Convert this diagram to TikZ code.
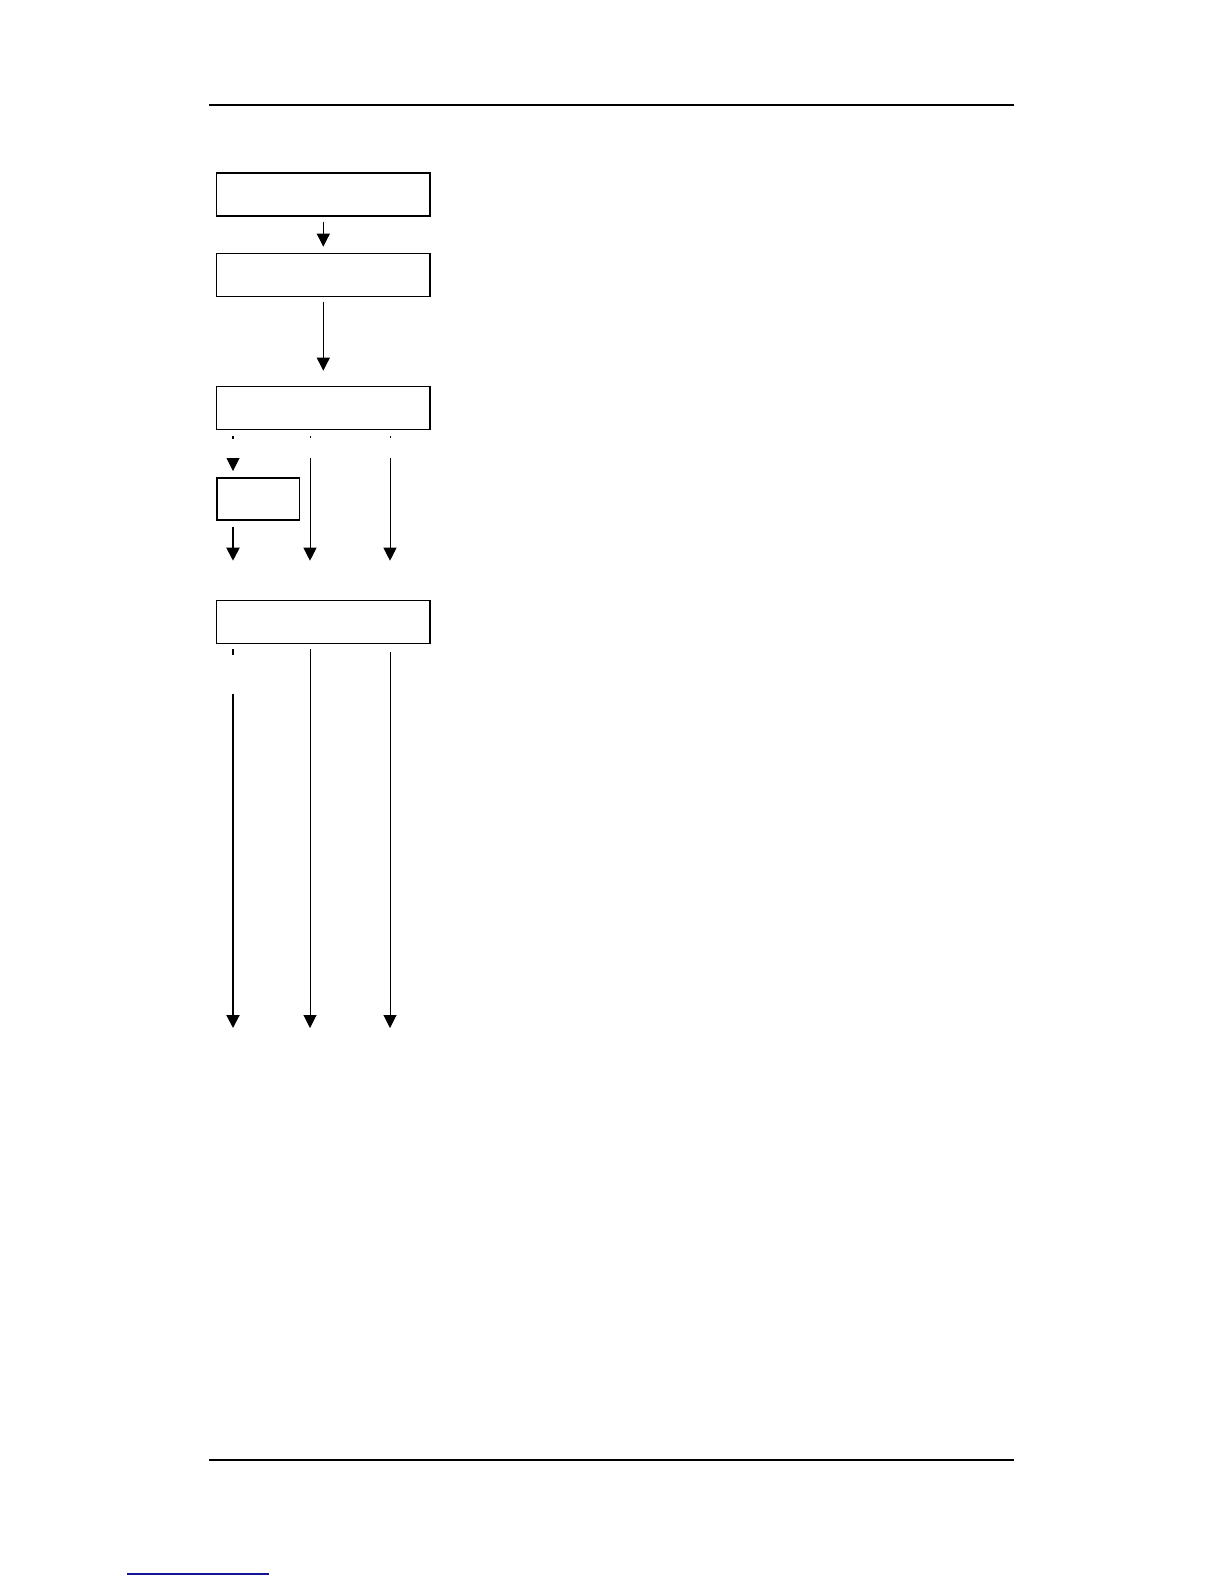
\documentclass[tikz,border=0pt]{standalone}
\usetikzlibrary{arrows.meta,calc,positioning}
\definecolor{linkblue}{RGB}{20,20,150}
\tikzset{
  stepbox/.style={draw,line width=0.8pt,minimum width=106.7pt,minimum height=21.5pt,inner sep=0pt},
  sidebox/.style={stepbox,minimum width=41.3pt,minimum height=21.2pt},
  flow/.style={-{Triangle[width=6.5pt,length=6.5pt]},line width=0.5pt},
  heavyflow/.style={flow,line width=1pt},
  rulerline/.style={line width=0.75pt}
}
\begin{document}
\begin{tikzpicture}[x=0.5pt,y=-0.5pt]
                                    \useasboundingbox (0,0) rectangle (1224,1584);
                                    \coordinate (colA) at (233,0);\coordinate (colB) at (310,0);\coordinate (colC) at (390,0);
% page rules
                                    \draw[rulerline] (209,105) -- (1014,105);
                                    \draw[rulerline] (209,1460) -- (1014,1460);
                                    \draw[rulerline,color=linkblue] (127,1574) -- (269,1574);

% boxes
                                    \node[stepbox] (first) at (323.3,194.5) {};
                                    \node[stepbox] (second) at (323.3,275) {};
                                    \node[stepbox] (third) at (323.3,408) {};
                                    \node[sidebox] (side) at (258,499) {};
                                    \node[stepbox] (fourth) at (323.3,622) {};
                                    \coordinate (outA) at (233,1028);\coordinate (outB) at (310,1028);\coordinate (outC) at (390,1028);

% arrows
                                    \draw[flow] ($(first.south)+(0,5)$) -- ($(second.north)+(0,-6)$);
                                    \draw[flow] ($(second.south)+(0,5)$) -- ($(third.north)+(0,-15)$);
                                    \draw[line width=1pt] ($(third.south -| colA)+(0,6)$) -- ++(0,3);
                                    \draw[line width=0.5pt] ($(third.south -| colB)+(0,6)$) -- ++(0,2);
                                    \draw[line width=0.5pt] ($(third.south -| colC)+(0,6)$) -- ++(0,2);
                                    \draw[flow] ($(third.south -| colA)+(0,28)$) -- ($(side.north -| colA)+(0,-6)$);
                                    \draw[flow] ($(third.south -| colB)+(0,28)$) -- ($(fourth.north -| colB)+(0,-39)$);
                                    \draw[flow] ($(third.south -| colC)+(0,28)$) -- ($(fourth.north -| colC)+(0,-39)$);
                                    \draw[heavyflow] ($(side.south -| colA)+(0,6)$) -- ($(fourth.north -| colA)+(0,-39)$);
                                    \draw[line width=1pt] ($(fourth.south -| colA)+(0,5)$) -- ++(0,6);
                                    \draw[heavyflow] ($(fourth.south -| colA)+(0,50)$) -- (outA);
                                    \draw[flow] ($(fourth.south -| colB)+(0,5)$) -- (outB);
                                    \draw[flow] ($(fourth.south -| colC)+(0,8)$) -- (outC);

                                \end{tikzpicture}
\end{document}
